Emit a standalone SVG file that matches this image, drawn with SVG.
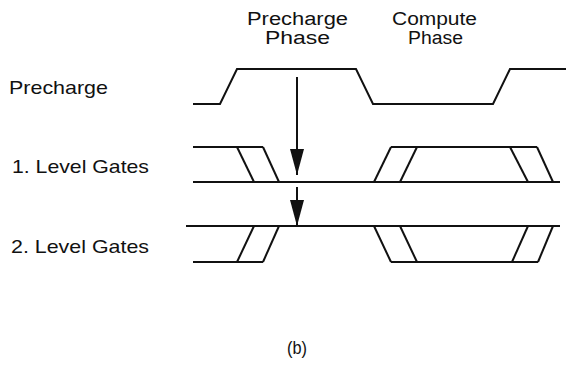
<svg xmlns="http://www.w3.org/2000/svg" width="566" height="366" viewBox="0 0 566 366">
<style>
text{font-family:"Liberation Sans",Arial,sans-serif;font-size:19px;fill:#111}
text.p{font-size:18px}
.w{fill:none;stroke:#111;stroke-width:2;stroke-linejoin:miter}
.c{fill:none;stroke:#111;stroke-width:2}
</style>
<defs>
<marker id="ah" viewBox="0 0 26 14" refX="26" refY="7" markerWidth="26" markerHeight="14" markerUnits="userSpaceOnUse" orient="auto">
<path d="M0,0 L26,7 L0,14 Z" fill="#111"/>
</marker>
</defs>
<rect width="566" height="366" fill="#fff"/>
<g id="labels">
<text x="9" y="94" textLength="99" lengthAdjust="spacingAndGlyphs">Precharge</text>
<text x="12" y="173" textLength="137" lengthAdjust="spacingAndGlyphs">1. Level Gates</text>
<text x="11" y="253" textLength="138" lengthAdjust="spacingAndGlyphs">2. Level Gates</text>
<text class="p" x="247" y="25" textLength="101" lengthAdjust="spacingAndGlyphs">Precharge</text>
<text class="p" x="265" y="44" textLength="65" lengthAdjust="spacingAndGlyphs">Phase</text>
<text class="p" x="392" y="25" textLength="85" lengthAdjust="spacingAndGlyphs">Compute</text>
<text class="p" x="408" y="44" textLength="55" lengthAdjust="spacingAndGlyphs">Phase</text>
<text x="287" y="354" textLength="20" lengthAdjust="spacingAndGlyphs">(b)</text>
</g>
<g id="precharge-wave">
<polyline class="w" points="193,104 220,104 237,69 356,69 373,104 493,104 510,69 566,69"/>
</g>
<g id="level1-wave">
<polyline class="w" points="193,147 263,147"/>
<line class="w" x1="237" y1="147" x2="254" y2="182"/>
<line class="w" x1="263" y1="147" x2="279" y2="182"/>
<line class="w" x1="193" y1="182" x2="560" y2="182"/>
<line class="w" x1="374" y1="182" x2="391" y2="147"/>
<line class="w" x1="400" y1="182" x2="417" y2="147"/>
<line class="w" x1="391" y1="147" x2="537" y2="147"/>
<line class="w" x1="510" y1="147" x2="528" y2="182"/>
<line class="w" x1="537" y1="147" x2="553" y2="182"/>
</g>
<g id="level2-wave">
<line class="w" x1="186" y1="226" x2="560" y2="226"/>
<line class="w" x1="193" y1="262" x2="263" y2="262"/>
<line class="w" x1="237" y1="262" x2="254" y2="226"/>
<line class="w" x1="263" y1="262" x2="279" y2="226"/>
<line class="w" x1="374" y1="226" x2="391" y2="262"/>
<line class="w" x1="400" y1="226" x2="417" y2="262"/>
<line class="w" x1="391" y1="262" x2="538" y2="262"/>
<line class="w" x1="512" y1="262" x2="528" y2="226"/>
<line class="w" x1="538" y1="262" x2="553" y2="226"/>
</g>
<g id="connectors">
<line class="c" x1="297" y1="77" x2="297" y2="175" marker-end="url(#ah)"/>
<line class="c" x1="297" y1="187" x2="297" y2="226" marker-end="url(#ah)"/>
</g>
</svg>
